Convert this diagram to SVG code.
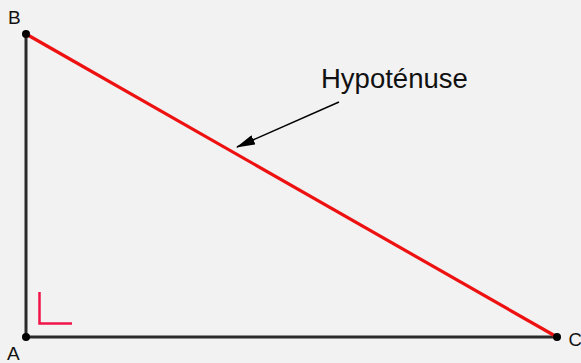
<svg xmlns="http://www.w3.org/2000/svg" width="581" height="363" viewBox="0 0 581 363">
<defs>
<style>
.lbl{font-family:"Liberation Sans",Arial,sans-serif;fill:#111;}
.leg{stroke:#2a2a2a;stroke-width:3;fill:none;}
.hyp{stroke:#ee1111;stroke-width:3.2;fill:none;}
.pt{fill:#000;}
</style>
<marker id="arr" markerWidth="19" markerHeight="10" refX="18" refY="5" orient="auto" markerUnits="userSpaceOnUse">
<path d="M0,0 L19,5 L0,10 Z" fill="#000"/>
</marker>
</defs>
<rect width="581" height="363" fill="#f2f2f2"/>
<g id="connectors">
<line class="leg" x1="26" y1="34" x2="26" y2="337"/>
<line class="leg" x1="26" y1="337" x2="557" y2="337"/>
<line class="hyp" x1="26" y1="34" x2="557" y2="337"/>
<line x1="339" y1="102" x2="237" y2="147" stroke="#000" stroke-width="1.5" marker-end="url(#arr)"/>
<path d="M39.5,292 V323.5 H72" fill="none" stroke="#f0144a" stroke-width="2.5"/>
</g>
<g id="nodeB"><circle class="pt" cx="26" cy="34" r="4"/><text class="lbl" x="8" y="24" font-size="19">B</text></g>
<g id="nodeA"><circle class="pt" cx="26" cy="337" r="4"/><text class="lbl" x="7" y="359.5" font-size="19">A</text></g>
<g id="nodeC"><circle class="pt" cx="557" cy="337" r="4"/><text class="lbl" x="568.5" y="346" font-size="18.5">C</text></g>
<g id="label"><text class="lbl" x="321" y="88" font-size="27.5">Hypoténuse</text></g>
</svg>
